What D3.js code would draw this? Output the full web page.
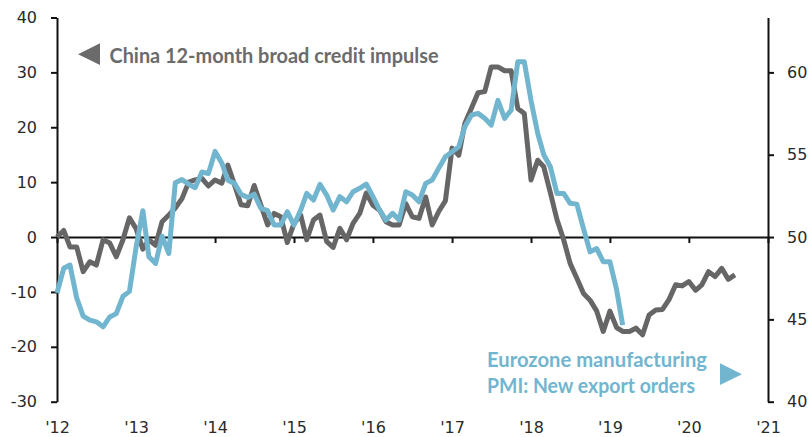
<!DOCTYPE html>
<html>
<head>
<meta charset="utf-8">
<script src="https://cdn.jsdelivr.net/npm/d3@7"></script>
<style>
  html, body { margin: 0; padding: 0; background: #ffffff; }
  svg { display: block; }
</style>
</head>
<body>
<svg id="chart" width="812" height="437"></svg>
<script>
// ---- Data (monthly, starting Jan 2012) ----
const startYear = 2012;
// China 12-month broad credit impulse (left axis, % )
const china2012 = [0, 1.2, -1.8, -1.8, -6.3, -4.5, -5.1, -0.5, -1.1, -3.6, -0.5, 3.5];
const china2013 = [1.5, -2.2, -0.5, -1.5, 2.8, 4, 5.3, 7.0, 10, 10.4, 10.7, 9.3];
const china2014 = [10.4, 9.8, 13.1, 9.5, 5.9, 5.7, 9.4, 5.8, 2.2, 4.3, 3.7, -1];
const china2015 = [2.5, 4, -0.5, 3.1, 4, -0.8, -1.9, 1.6, -0.5, 2.5, 4.3, 8];
const china2016 = [5.8, 4.9, 2.8, 2.2, 2.2, 6.1, 3.7, 3.4, 7.3, 2.2, 4.7, 6.6];
const china2017 = [16.2, 14.9, 20.7, 23.5, 26.3, 26.5, 31, 31, 30.3, 30.3, 23.4, 22.5];
const china2018 = [10.4, 14, 12.8, 8, 3.2, -0.5, -4.8, -7.5, -10.3, -11.5, -13.5, -17.2];
const china2019 = [-13.5, -16.5, -17.2, -17.2, -16.6, -17.8, -14.2, -13.3, -13.2, -11.4, -8.7, -8.9];
const china2020 = [-8.1, -9.7, -8.7, -6.3, -7.2, -5.7, -7.7, -6.9];

// Eurozone manufacturing PMI: New export orders (right axis, index)
const pmi2012 = [46.6, 48.1, 48.3, 46.3, 45.2, 44.95, 44.85, 44.55, 45.15, 45.35, 46.4, 46.7];
const pmi2013 = [49.4, 51.6, 48.8, 48.4, 50.05, 49.0, 53.3, 53.5, 53.2, 53.0, 53.95, 53.85];
const pmi2014 = [55.2, 54.5, 53.45, 53.26, 52.6, 52.4, 52.6, 51.74, 51.6, 50.73, 50.73, 51.54];
const pmi2015 = [50.73, 51.64, 52.65, 52.25, 53.2, 52.55, 51.64, 52.45, 52.14, 52.75, 52.96, 53.22];
const pmi2016 = [52.45, 51.64, 51.03, 51.44, 51.03, 52.75, 52.55, 52.14, 53.26, 53.46, 54.2, 54.88];
const pmi2017 = [55.18, 55.49, 56.7, 57.41, 57.51, 57.21, 56.8, 58.3, 57.21, 57.7, 60.65, 60.65];
const pmi2018 = [58.3, 56.3, 55.0, 54.25, 52.65, 52.65, 52.05, 52.0, 50.5, 49.1, 49.3, 48.5];
const pmi2019 = [48.5, 46.8, 44.65];

const leftTicks = [-30, -20, -10, 0, 10, 20, 30, 40];
const rightTicks = [40, 45, 50, 55, 60];
const yearTicks = [2012, 2013, 2014, 2015, 2016, 2017, 2018, 2019, 2020, 2021];

const chinaLabel = "China 12-month broad credit impulse";
const pmiLabel = ["Eurozone manufacturing", "PMI: New export orders"];

// ---- Build series ----
const chinaVals = [].concat(china2012, china2013, china2014, china2015, china2016, china2017, china2018, china2019, china2020);
const pmiVals = [].concat(pmi2012, pmi2013, pmi2014, pmi2015, pmi2016, pmi2017, pmi2018, pmi2019);
const toSeries = vals => vals.map((v, i) => ({ date: new Date(startYear, i, 1), value: v }));
const china = toSeries(chinaVals);
const pmi = toSeries(pmiVals);

// ---- Layout ----
const W = 812, H = 437;
const plotLeft = 57, plotRight = 768, plotTop = 17.5, plotBottom = 401.7;

const svg = d3.select("#chart");

const x = d3.scaleTime()
  .domain([new Date(2012, 0, 1), new Date(2021, 0, 1)])
  .range([plotLeft, plotRight]);
const yL = d3.scaleLinear().domain([-30, 40]).range([plotBottom, plotTop]);
const yR = d3.scaleLinear().domain([40, 40 + 70 / 3]).range([plotBottom, plotTop]);

const tickFont = "'DejaVu Sans', sans-serif";
const labelFont = "Lato, 'Open Sans', sans-serif";
const grey = "#666666";
const blue = "#72b5cf";

// Left axis
const gL = svg.append("g")
  .attr("transform", `translate(${plotLeft},0)`)
  .call(d3.axisLeft(yL).tickValues(leftTicks).tickSize(6).tickSizeOuter(0).tickPadding(14).tickFormat(d3.format("d")));
// Right axis
const gR = svg.append("g")
  .attr("transform", `translate(${plotRight},0)`)
  .call(d3.axisRight(yR).tickValues(rightTicks).tickSize(6).tickSizeOuter(0).tickPadding(13).tickFormat(d3.format("d")));

[gL, gR].forEach(g => {
  g.select(".domain").attr("stroke", "#111").attr("stroke-width", 2);
  g.selectAll(".tick line").attr("stroke", "#111").attr("stroke-width", 2);
  g.selectAll(".tick text")
    .attr("font-family", tickFont).attr("font-size", 16).attr("fill", "#2a2a2a");
});
gL.selectAll(".tick text").text(d => d < 0 ? "-" + Math.abs(d) : d);

// Zero line with year ticks
const gZ = svg.append("g")
  .attr("transform", `translate(0,${yL(0)})`)
  .call(d3.axisBottom(x).tickValues(yearTicks.map(y => new Date(y, 0, 1))).tickSize(6).tickSizeOuter(0).tickFormat(""));
gZ.select(".domain").attr("stroke", "#111").attr("stroke-width", 2);
gZ.selectAll(".tick line").attr("stroke", "#111").attr("stroke-width", 2);

// Year labels at bottom
const gX = svg.append("g")
  .attr("transform", `translate(0,${plotBottom})`)
  .call(d3.axisBottom(x).tickValues(yearTicks.map(y => new Date(y, 0, 1))).tickSize(0).tickPadding(20)
    .tickFormat(d => "'" + String(d.getFullYear()).slice(2)));
gX.select(".domain").remove();
gX.selectAll(".tick text")
  .attr("font-family", tickFont).attr("font-size", 16).attr("fill", "#2a2a2a");

// Lines
const lineL = d3.line().x(d => x(d.date)).y(d => yL(d.value));
const lineR = d3.line().x(d => x(d.date)).y(d => yR(d.value));

svg.append("path").datum(china)
  .attr("fill", "none").attr("stroke", grey).attr("stroke-width", 5)
  .attr("stroke-linejoin", "round").attr("stroke-linecap", "butt")
  .attr("d", lineL);

svg.append("path").datum(pmi)
  .attr("fill", "none").attr("stroke", blue).attr("stroke-width", 5)
  .attr("stroke-linejoin", "round").attr("stroke-linecap", "butt")
  .attr("d", lineR);

// Legend: China
svg.append("path")
  .attr("d", "M78,54.2 L100,43.3 L100,65 Z")
  .attr("fill", "#6b6b6b");
svg.append("text")
  .attr("x", 109.5).attr("y", 63.3)
  .attr("font-family", labelFont).attr("font-weight", 700).attr("font-size", 20)
  .attr("fill", "#6b6b6b")
  .attr("textLength", 329).attr("lengthAdjust", "spacingAndGlyphs")
  .text(chinaLabel);

// Legend: PMI
svg.append("text")
  .attr("x", 487).attr("y", 367)
  .attr("font-family", labelFont).attr("font-weight", 700).attr("font-size", 20)
  .attr("fill", blue)
  .attr("textLength", 220).attr("lengthAdjust", "spacingAndGlyphs")
  .text(pmiLabel[0]);
svg.append("text")
  .attr("x", 487).attr("y", 392.5)
  .attr("font-family", labelFont).attr("font-weight", 700).attr("font-size", 20)
  .attr("fill", blue)
  .attr("textLength", 208).attr("lengthAdjust", "spacingAndGlyphs")
  .text(pmiLabel[1]);
svg.append("path")
  .attr("d", "M742,374.2 L720,363.3 L720,385 Z")
  .attr("fill", blue);
</script>
</body>
</html>
